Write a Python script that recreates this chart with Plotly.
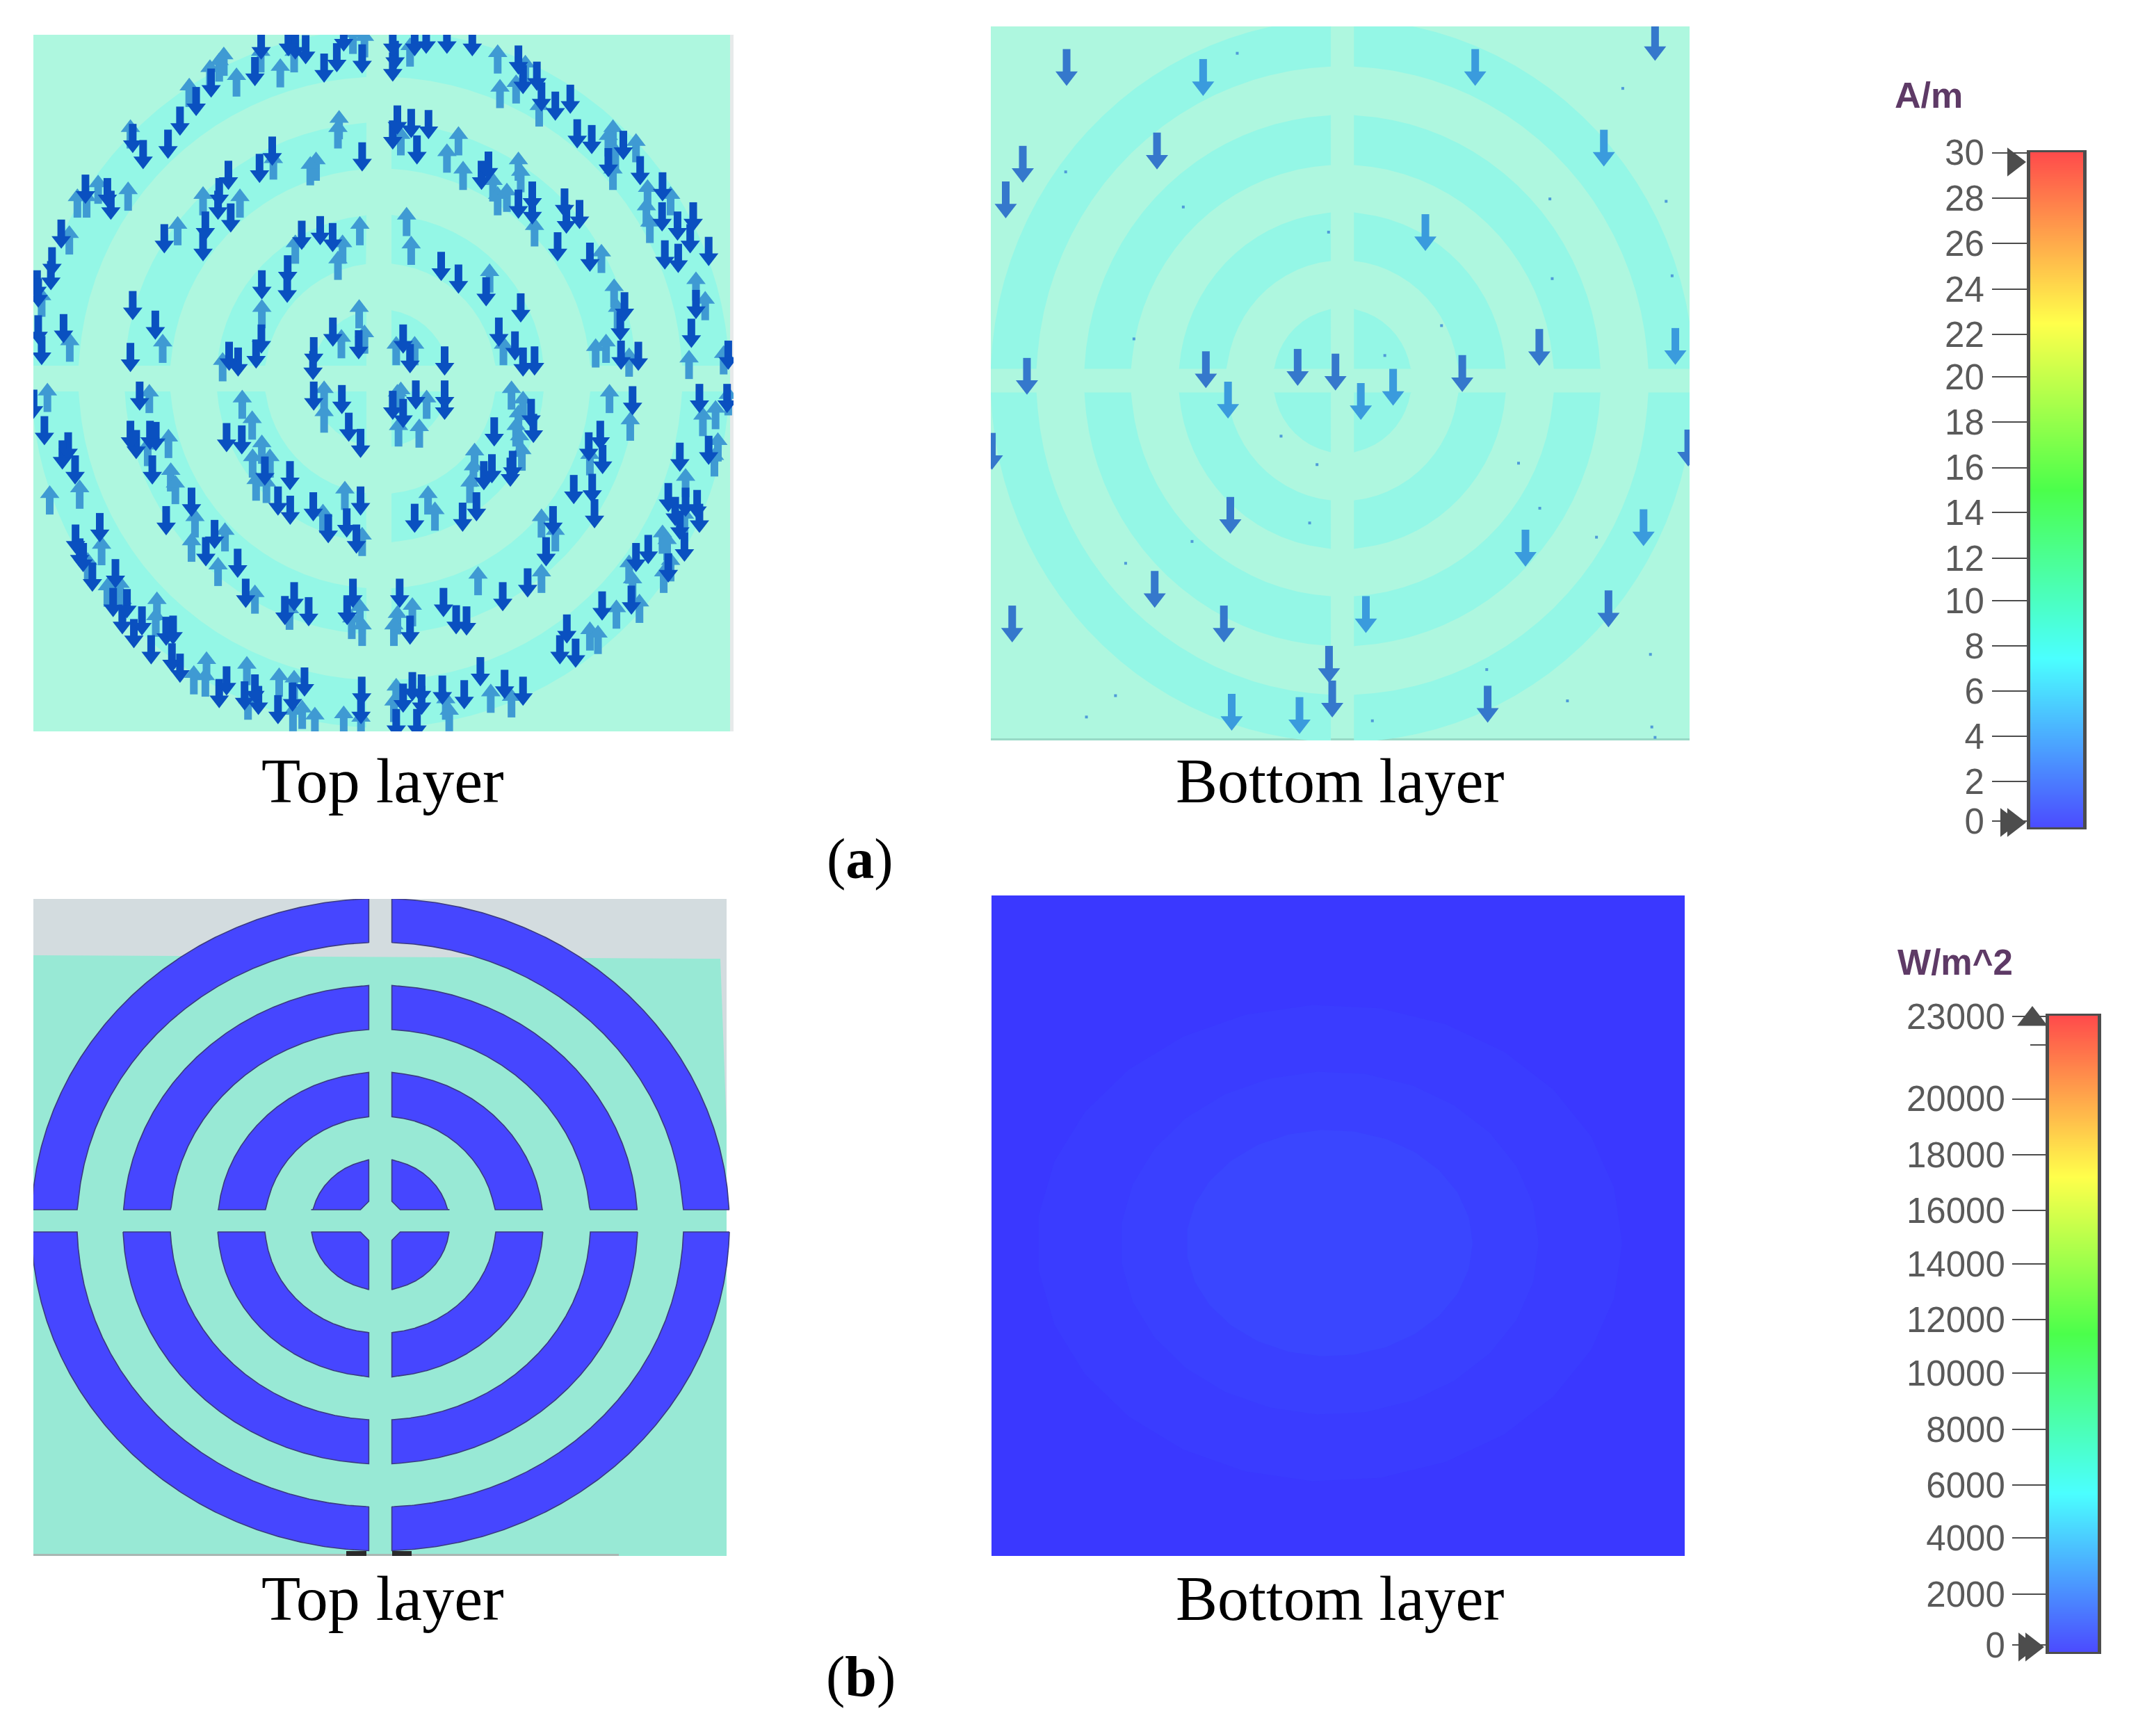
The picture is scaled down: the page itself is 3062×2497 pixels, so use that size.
import numpy as np
import plotly.graph_objects as go

W, H = 3062, 2497
PAGE_INSET = 8  # the page body's own margin

# ---------- ring geometry (reference pixels) ----------
AL_RADII = [99.5, 166, 235.5, 302, 368, 434, 502]
AR_RADII_X = [99.5, 167, 235.5, 304, 371.4, 440, 506]
AR_RADII_Y = [104, 173, 242, 310.5, 382, 452, 520]
BL_RADII_X = [99.5, 166, 234, 302, 370, 436, 502]
BL_RADII_Y = [94, 156, 219, 281, 344, 406, 469]

Q1_DOWN = [(1012,75),(1130,60),(1160,75),(1205,95),(1340,130),(1285,175),(1450,135),(985,190),(795,240),(730,320),(660,405),(608,505),(455,480),(500,550),(250,700),(345,715),(360,770),(145,895),(105,1015),(100,1075),(40,1115),(45,1150),(155,1305),(45,1310),(60,1400),(455,1205),(553,1290),(445,1430),(870,640),(1060,535),(1005,610),(830,715),(825,770),(880,825),(770,860),(760,950),(592,915),(1450,560),(1188,900),(1268,880),(1322,910),(1127,1050),(1125,1130),(1015,1115),(1013,1350),(990,1415),(873,1425),(912,1450),(1240,1405),(1237,1465),(1323,1320),(1435,1375),(1370,40)]
Q1_UP = [(1010,130),(1095,195),(1155,130),(905,235),(830,170),(790,200),(850,145),(700,280),(445,460),(435,730),(305,700),(215,760),(255,760),(180,920),(60,1190),(182,1385),(585,1390),(1015,1240),(845,1470),(1345,460),(1350,420),(1065,595),(1250,600),(1225,620),(760,750),(920,760),(650,880),(1440,880),(1365,960),(1345,1030),(1160,960),(1437,1240),(1360,1370),(1460,1350),(1460,65),(1410,50)]
Q2_DOWN = [(75,60),(85,120),(75,170),(170,60),(220,50),(310,50),(420,60),(620,140),(640,225),(700,210),(720,300),(780,340),(845,310),(95,400),(75,465),(155,415),(230,420),(180,530),(875,460),(938,485),(1075,510),(1010,585),(1148,620),(1245,690),(1243,820),(1310,860),(1378,820),(1365,915),(1445,970),(1255,985),(1313,1000),(460,640),(490,600),(620,765),(680,730),(680,790),(820,760),(828,830),(885,810),(790,950),(930,995),(1080,1210),(1062,1295),(1065,1420),(1140,1425),(1390,1200),(1370,1325),(285,1035),(360,1090),(480,1145),(630,1215),(535,1320),(605,1380),(640,1450),(690,1445),(120,1350),(150,1435),(300,1445),(1530,1420)]
Q2_UP = [(530,135),(150,105),(540,285),(610,265),(710,365),(650,180),(1030,460),(1010,495),(1130,520),(1040,560),(1030,640),(1180,720),(1280,750),(1175,800),(1190,870),(360,490),(310,565),(380,640),(510,690),(530,750),(570,735),(620,600),(630,650),(690,885),(135,840),(155,965),(495,1085),(980,1000),(1035,1150),(1050,1240),(955,1410),(1000,1390),(1100,1450),(1390,1120),(1430,1205),(1360,1460),(1510,1440),(555,1400),(90,1400),(170,1400),(110,490)]
Q3_DOWN = [(25,125),(72,240),(175,310),(150,345),(205,410),(485,90),(1240,90),(1362,105),(1392,225),(1443,295),(445,260),(470,300),(530,260),(555,265),(540,410),(862,270),(928,280),(1028,415),(1137,435),(1085,545),(1138,585),(1238,570),(1303,665),(1443,545),(1383,640),(1425,710),(600,630),(710,550),(810,690),(772,765),(910,815),(945,945),(1115,1020),(1155,960),(1218,1025),(1410,945),(1385,1020),(312,660),(207,710),(225,770),(240,790),(280,875),(380,860),(370,985),(430,990),(410,1060),(495,1065),(460,1120),(600,1110),(630,1105),(535,1190),(625,1225),(660,1270),(862,1325),(830,1380),(940,1390),(985,1360),(1000,1410),(1085,1450),(1148,1395),(1200,1330),(1448,1370),(1445,1450)]
Q3_UP = [(85,95),(527,100),(1285,85),(1285,185),(930,125),(973,215),(610,295),(520,330),(1015,320),(975,380),(1050,380),(990,480),(1035,490),(620,440),(640,495),(225,515),(95,540),(725,640),(710,745),(855,700),(825,850),(985,970),(1135,1040),(1375,520),(1280,620),(1450,720),(1440,1030),(1405,1080),(1450,1110),(320,760),(260,830),(345,940),(400,930),(560,1000),(555,1070),(410,1000),(775,1260),(720,1320),(770,1330),(950,1280),(955,1430),(1090,1330),(1155,1340),(1150,1480),(1190,1470),(1245,1500),(1370,1495),(1445,1510)]
Q4_DOWN = [(75,130),(120,165),(175,85),(300,85),(300,130),(675,165),(685,230),(515,245),(505,405),(470,435),(585,420),(595,390),(170,620),(378,615),(438,570),(975,260),(925,310),(985,365),(1115,110),(1405,100),(860,495),(940,490),(950,600),(770,630),(740,765),(660,900),(552,960),(105,945),(295,985),(350,1060),(395,1065),(150,1105),(830,1100),(800,1190),(868,1205),(983,1000),(1110,975),(1130,790),(1183,755),(1270,835),(1340,745),(1270,530),(1300,590),(1345,550),(1395,560),(1405,620),(1320,650),(1320,355),(1445,325),(455,1285),(560,1340),(640,1370),(385,1385),(290,1365),(160,1350),(200,1360),(120,1400),(200,1410),(90,1510),(180,1510),(1525,100)]
Q4_UP = [(95,100),(110,90),(222,125),(100,245),(190,250),(590,85),(640,130),(620,190),(610,245),(625,290),(635,350),(430,355),(425,420),(410,490),(228,540),(258,610),(1015,100),(1105,220),(930,370),(720,640),(780,700),(445,890),(720,880),(160,1025),(95,1060),(80,1110),(930,1130),(965,1145),(1045,1035),(1145,1010),(1115,910),(1100,840),(1245,710),(1265,740),(1250,880),(1280,830),(1345,465),(1340,630),(1420,200),(1475,170),(1530,110),(1470,375),(1485,310),(500,1400),(590,1420),(90,1375),(80,1440),(320,1480),(305,1430)]

# ---------- arrows of panel (a) bottom layer ----------
AR_DARK = [(187,113),(1463,60),(92,317),(383,289),(55,392),(101,764),(489,750),(688,745),(770,755),(1045,758),(1212,703),(25,922),(1535,915),(542,1057),(378,1213),(69,1286),(528,1286),(1362,1254),(756,1371),(763,1444),(1100,1455)]
AR_LIGHT = [(483,134),(1073,113),(1352,283),(965,461),(895,787),(1507,701),(537,814),(825,817),(1182,1126),(1438,1083),(836,1266),(545,1472),(692,1479)]
AR_SPECKS = [(557,83),(1393,157),(185,333),(440,407),(755,460),(1235,390),(1487,395),(1240,558),(1500,552),(333,685),(1000,657),(877,720),(652,890),(730,950),(1167,947),(1213,1042),(714,1073),(459,1112),(1336,1103),(315,1158),(293,1437),(230,1482),(850,1490),(1098,1382),(1453,1350),(1273,1448),(1456,1503),(1463,1525)]

# ---------- colour bars ----------
A_TICK_LABELS = ["30","28","26","24","22","20","18","16","14","12","10","8","6","4","2","0"]
A_TICK_PX = [219.5,285,350,416,481,542,607,672.5,737,803,864,929,994,1059,1124,1181]
B_TICK_LABELS = ["23000","20000","18000","16000","14000","12000","10000","8000","6000","4000","2000","0"]
B_TICK_PX = [1462,1580.5,1661,1741,1818,1898,1975,2056,2136,2212,2293,2366]
HFSS_SCALE = [[0,"#4B4BFF"],[0.25,"#4BFFFF"],[0.5,"#4BFF4B"],[0.747,"#FFFF4B"],[1,"#FF4B4B"]]

# ---------- power density halo of panel (b) bottom layer ----------
HALO_RX = [421, 301, 206]
HALO_RY = [343, 247, 163]
HALO_COLORS = ["#3A3CFF", "#3A40FF", "#3A46FF"]

layout = dict(
    width=W, height=H, margin=dict(l=0, r=0, t=0, b=0, pad=0, autoexpand=False),
    paper_bgcolor="white", plot_bgcolor="white", showlegend=False,
    shapes=[], annotations=[],
)
traces = []


def add_axes(i, x0, x1, y0, y1):
    s = "" if i == 1 else str(i)
    layout["xaxis" + s] = dict(domain=[(x0 - PAGE_INSET) / W, (x1 - PAGE_INSET) / W], range=[x0, x1],
                               visible=False, anchor="y" + s, automargin=False)
    layout["yaxis" + s] = dict(domain=[1 - (y1 - PAGE_INSET) / H, 1 - (y0 - PAGE_INSET) / H], range=[y1, y0],
                               visible=False, anchor="x" + s, automargin=False)
    return "x" + s, "y" + s


def rect(xa, ya, x0, x1, y0, y1, color, layer="below"):
    layout["shapes"].append(dict(type="rect", xref=xa, yref=ya, x0=x0, x1=x1, y0=y0, y1=y1,
                                 fillcolor=color, line_width=0, layer=layer))


def rings(xa, ya, cx, cy, gx, gy, hx, hy, rxs, rys, fill, outline=None, chamfer=0):
    """Concentric bands split in four quadrants by a cross-shaped gap."""
    xs, ys = [], []
    th = np.linspace(0, np.pi / 2, 240)
    bands = [(0, 0, rxs[0], rys[0]), (rxs[1], rys[1], rxs[2], rys[2]),
             (rxs[3], rys[3], rxs[4], rys[4]), (rxs[5], rys[5], rxs[6], rys[6])]
    for a, b, c, d in bands:
        for sx in (-1, 1):
            for sy in (-1, 1):
                px = np.concatenate([cx + sx * c * np.cos(th), cx + sx * a * np.cos(th[::-1])])
                py = np.concatenate([cy + sy * d * np.sin(th), cy + sy * b * np.sin(th[::-1])])
                px = np.maximum(px, gx + hx) if sx > 0 else np.minimum(px, gx - hx)
                py = np.maximum(py, gy + hy) if sy > 0 else np.minimum(py, gy - hy)
                if a == 0 and chamfer:
                    px = np.concatenate([px[:240], [gx + sx * hx, gx + sx * (hx + chamfer)]])
                    py = np.concatenate([py[:240], [gy + sy * (hy + chamfer), gy + sy * hy]])
                xs += list(px) + [px[0], None]
                ys += list(py) + [py[0], None]
    line = dict(color=outline, width=1.6) if outline else dict(width=0)
    traces.append(go.Scatter(x=xs, y=ys, xaxis=xa, yaxis=ya, mode="lines", fill="toself",
                             fillcolor=fill, line=line, hoverinfo="skip"))


def arrows(xa, ya, xs, ys, down, color, length, head_w, shaft_w):
    d = head_w / 1.155
    r = d / 2
    sgn = 1 if down else -1
    sx, sy = [], []
    for x, y in zip(xs, ys):
        sx += [x, x, None]
        sy += [y - sgn * length / 2, y + sgn * (length / 2 - 0.7 * d), None]
    traces.append(go.Scatter(x=sx, y=sy, xaxis=xa, yaxis=ya, mode="lines",
                             line=dict(color=color, width=shaft_w), hoverinfo="skip"))
    hy = [y + sgn * (length / 2 - r) for y in ys]
    traces.append(go.Scatter(x=list(xs), y=hy, xaxis=xa, yaxis=ya, mode="markers",
                             marker=dict(symbol="triangle-down" if down else "triangle-up",
                                         size=d, color=color, line_width=0), hoverinfo="skip"))


# ---------- (a) top layer ----------
xa, ya = add_axes(1, 48, 1055, 50, 1052)
rect(xa, ya, 48, 1050, 50, 1052, "#AEF7DF")
rect(xa, ya, 1050, 1055, 50, 1052, "#E6EAEA")
rings(xa, ya, 547, 544.5, 545, 544.5, 18, 18.5, AL_RADII, AL_RADII, "#94F7E6")

crop = 1568 / 520
def conv(q, ox, oy):
    return [ox + p[0] / crop for p in q], [oy + p[1] / crop for p in q]

for q, ox, oy in [(Q1_UP, 40, 40), (Q2_UP, 540, 40), (Q3_UP, 40, 540), (Q4_UP, 540, 540)]:
    x, y = conv(q, ox, oy)
    arrows(xa, ya, x, y, False, "#3F9AD3", 42, 28, 11)
for q, ox, oy in [(Q1_DOWN, 40, 40), (Q2_DOWN, 540, 40), (Q3_DOWN, 40, 540), (Q4_DOWN, 540, 540)]:
    x, y = conv(q, ox, oy)
    arrows(xa, ya, x, y, True, "#0A50C0", 42, 28, 11)

# ---------- (a) bottom layer ----------
xa, ya = add_axes(2, 1425, 2430, 38, 1065)
rect(xa, ya, 1425, 2430, 38, 1065, "#AEF7DF")
rect(xa, ya, 1425, 2430, 1062, 1065, "#98D9C6")
rings(xa, ya, 1930.7, 547.5, 1930.7, 547.5, 16.6, 17, AR_RADII_X, AR_RADII_Y, "#94F7E6")
cx = 1568 / 1040
cy = 1568 / 1070
def conv2(q):
    return [1410 + p[0] / cx for p in q], [20 + p[1] / cy for p in q]

x, y = conv2(AR_SPECKS)
traces.append(go.Scatter(x=x, y=y, xaxis=xa, yaxis=ya, mode="markers",
                         marker=dict(symbol="square", size=4, color="#4F9BD8", line_width=0), hoverinfo="skip"))
x, y = conv2(AR_LIGHT)
arrows(xa, ya, x, y, True, "#3A9BDD", 53, 32, 11)
x, y = conv2(AR_DARK)
arrows(xa, ya, x, y, True, "#3578CC", 53, 32, 11)

# ---------- (b) top layer ----------
xa, ya = add_axes(3, 48, 1052, 1293, 2238)
rect(xa, ya, 48, 1045, 1293, 2238, "#98E9D5")
rect(xa, ya, 48, 890, 2235, 2238, "#A9B7B3")
traces.append(go.Scatter(x=[48, 1045, 1045, 1036, 48, 48], y=[1293, 1293, 1379, 1379, 1374, 1293],
                         xaxis=xa, yaxis=ya, mode="lines", fill="toself", fillcolor="#D3DCDF",
                         line_width=0, hoverinfo="skip"))
traces.append(go.Scatter(x=[1036, 1045, 1045, 1036], y=[1379, 1379, 1620, 1379],
                         xaxis=xa, yaxis=ya, mode="lines", fill="toself", fillcolor="#D3DCDF",
                         line_width=0, hoverinfo="skip"))
rings(xa, ya, 547, 1761.5, 547, 1756, 16.6, 16, BL_RADII_X, BL_RADII_Y, "#4646FF", "#3A3A80", chamfer=12)
rect(xa, ya, 498, 527, 2231, 2238, "#2A2A2A", "above")
rect(xa, ya, 564, 592, 2231, 2238, "#2A2A2A", "above")

# ---------- (b) bottom layer ----------
xa, ya = add_axes(4, 1426, 2423, 1288, 2238)
rect(xa, ya, 1426, 2423, 1288, 2238, "#3A38FF")
t = np.linspace(0, 2 * np.pi, 28)
for rx, ry, col in zip(HALO_RX, HALO_RY, HALO_COLORS):
    traces.append(go.Scatter(x=1912 + rx * np.cos(t), y=1788 + ry * np.sin(t), xaxis=xa, yaxis=ya,
                             mode="lines", fill="toself", fillcolor=col, line_width=0, hoverinfo="skip"))


# ---------- colour bars ----------
def colour_bar(i, x0, x1, y0, y1, vmax, tickpx, ticklabels, ticklen, standoff):
    xa, ya = add_axes(i, x0, x1, y0, y1)
    s = str(i)
    yy = np.linspace(y0, y1, 256)
    zz = np.linspace(vmax, 0, 256)
    traces.append(go.Heatmap(x=[0, 1], y=yy, z=np.column_stack([zz, zz]), xaxis=xa, yaxis=ya,
                             colorscale=HFSS_SCALE, zmin=0, zmax=vmax, showscale=False,
                             zsmooth="best", hoverinfo="skip"))
    layout["xaxis" + s].update(visible=True, range=[0, 1], showticklabels=False, ticks="",
                               showgrid=False, zeroline=False, showline=True, linecolor="#4d4d4d",
                               linewidth=3, mirror=True)
    layout["yaxis" + s].update(visible=True, tickmode="array", tickvals=tickpx, ticktext=ticklabels,
                               ticks="outside", ticklen=ticklen, tickwidth=2, tickcolor="#4d4d4d",
                               showgrid=False, zeroline=False, showline=True, linecolor="#4d4d4d",
                               linewidth=5, mirror=True, ticklabelstandoff=standoff,
                               tickfont=dict(family="Liberation Sans", size=51, color="#5a5a5a"))


colour_bar(5, 2920, 2996, 219, 1190, 30, A_TICK_PX, A_TICK_LABELS, 50, 1)
colour_bar(6, 2947, 3017, 1461, 2376, 23000, B_TICK_PX, B_TICK_LABELS, 48, 0)

xa, ya = add_axes(7, 2860, 2917, 190, 1215)
traces.append(go.Scatter(x=[2896, 2896, 2886], y=[233, 1183, 1183], xaxis=xa, yaxis=ya, mode="markers",
                         marker=dict(symbol="triangle-right", size=36, color="#4d4d4d", line_width=0),
                         hoverinfo="skip"))
xa, ya = add_axes(8, 2890, 2943, 1430, 2400)
traces.append(go.Scatter(x=[2920, 2943], y=[1503, 1503], xaxis=xa, yaxis=ya, mode="lines",
                         line=dict(color="#4d4d4d", width=2), hoverinfo="skip"))
traces.append(go.Scatter(x=[2923], y=[1466], xaxis=xa, yaxis=ya, mode="markers",
                         marker=dict(symbol="triangle-up", size=38, color="#4d4d4d", line_width=0),
                         hoverinfo="skip"))
traces.append(go.Scatter(x=[2922, 2912], y=[2369, 2369], xaxis=xa, yaxis=ya, mode="markers",
                         marker=dict(symbol="triangle-right", size=36, color="#4d4d4d", line_width=0),
                         hoverinfo="skip"))


# ---------- text ----------
def text(x, y, s, family, size, color="black", xanchor="center"):
    layout["annotations"].append(dict(x=(x - PAGE_INSET) / W, y=1 - (y - PAGE_INSET) / H, xref="paper", yref="paper",
                                      text=s, showarrow=False, xanchor=xanchor, yanchor="middle",
                                      font=dict(family=family, size=size, color=color)))


SERIF = "Liberation Serif"
text(550, 1123, "Top layer", SERIF, 92)
text(1927, 1123, "Bottom layer", SERIF, 90)
text(550, 2299, "Top layer", SERIF, 92)
text(1927, 2299, "Bottom layer", SERIF, 90)
text(1237, 1236, "(<b>a</b>)", SERIF, 82)
text(1238, 2411, "(<b>b</b>)", SERIF, 82)
text(2723, 137, "<b>A/m</b>", "Liberation Sans", 52, "#5E3A66", "left")
text(2727, 1384, "<b>W/m^2</b>", "Liberation Sans", 51, "#5E3A66", "left")

fig = go.Figure(data=traces, layout=layout)
fig.write_html("out.html")
